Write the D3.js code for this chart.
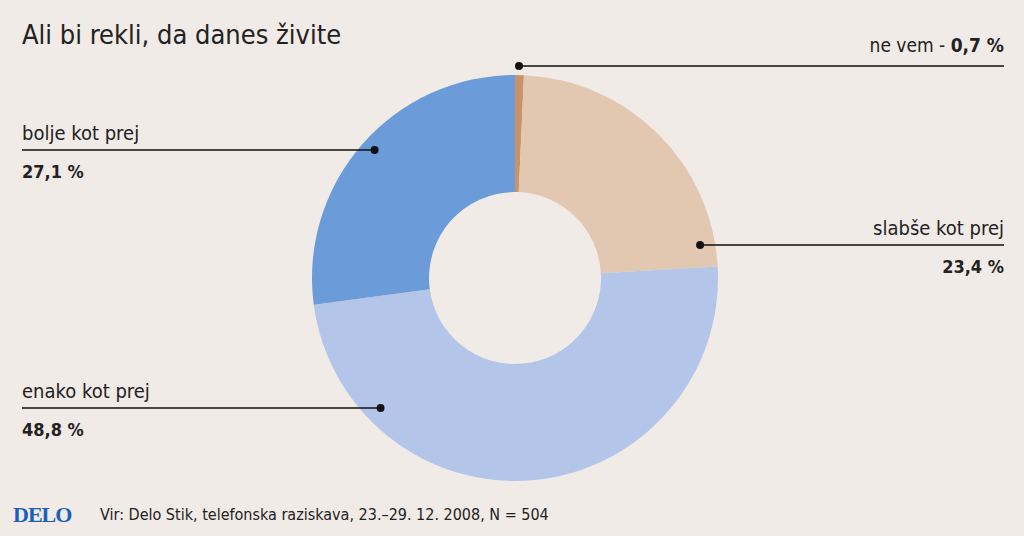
<!DOCTYPE html><html><head><meta charset="utf-8">
<script src="https://cdn.jsdelivr.net/npm/d3@7"></script>
<style>body{margin:0;background:#f0ebe6}</style></head><body>
<svg id="c" width="1024" height="536"></svg>
<script>
const categories=["ne vem","slabše kot prej","enako kot prej","bolje kot prej"];
const values=[0.7,23.4,48.8,27.1];
const valueLabels=["0,7 %","23,4 %","48,8 %","27,1 %"];
const colors=["#c9936a","#e2c8b0","#b3c6ea","#6b9bd8"];
const svg=d3.select("#c");
svg.append("rect").attr("width",1024).attr("height",536).attr("fill","#f0ebe6");
const cx=515,cy=278;
const pie=d3.pie().sort(null)(values);
const arc=d3.arc().innerRadius(86).outerRadius(203);
const g=svg.append("g").attr("transform",`translate(${cx},${cy})`);
g.selectAll("path").data(pie).enter().append("path").attr("d",arc).attr("fill",(d,i)=>colors[i]);
const font="'DejaVu Sans Condensed','DejaVu Sans',sans-serif";
svg.append("text").attr("x",22).attr("y",44).attr("font-size",27).attr("font-family",font).attr("fill","#222").text("Ali bi rekli, da danes živite");
const lab=[
 {r:194,y:66,side:"right",one:true},
 {r:188,y:245,side:"right"},
 {r:187,y:408,side:"left"},
 {r:190,y:150,side:"left"}];
pie.forEach((d,i)=>{
 const L=lab[i];
 let dy=L.y-cy;
 let s=Math.max(-1,Math.min(1,-dy/L.r));
 let ang=Math.acos(s);
 let dx=L.r*Math.sin(ang)*(L.side==="right"?1:-1);
 if(i===0) dx=4;
 const px=cx+dx;
 const x2=L.side==="right"?1004:22;
 svg.append("line").attr("x1",px).attr("x2",x2).attr("y1",L.y).attr("y2",L.y).attr("stroke","#111").attr("stroke-width",1.5);
 svg.append("circle").attr("cx",px).attr("cy",L.y).attr("r",4).attr("fill","#111");
 const anchor=L.side==="right"?"end":"start";
 if(L.one){
  const t=svg.append("text").attr("x",x2).attr("y",L.y-14).attr("text-anchor",anchor).attr("font-size",19).attr("font-family",font).attr("fill","#222");
  t.append("tspan").text(categories[i]+" - ");
  t.append("tspan").attr("font-weight","bold").text(valueLabels[i]);
 } else {
  svg.append("text").attr("x",x2).attr("y",L.y-10).attr("text-anchor",anchor).attr("font-size",20).attr("font-family",font).attr("fill","#222").text(categories[i]);
  svg.append("text").attr("x",x2).attr("y",L.y+28).attr("text-anchor",anchor).attr("font-size",18).attr("font-weight","bold").attr("font-family",font).attr("fill","#222").text(valueLabels[i]);
 }
});
svg.append("text").attr("x",13).attr("y",522).attr("font-size",22).attr("font-weight","bold").attr("font-family","'Liberation Serif',serif").attr("fill","#1c5fb8").attr("letter-spacing",-1).text("DELO");
svg.append("text").attr("x",100).attr("y",520).attr("font-size",16).attr("font-family",font).attr("fill","#222").text("Vir: Delo Stik, telefonska raziskava, 23.–29. 12. 2008, N = 504");
</script></body></html>
